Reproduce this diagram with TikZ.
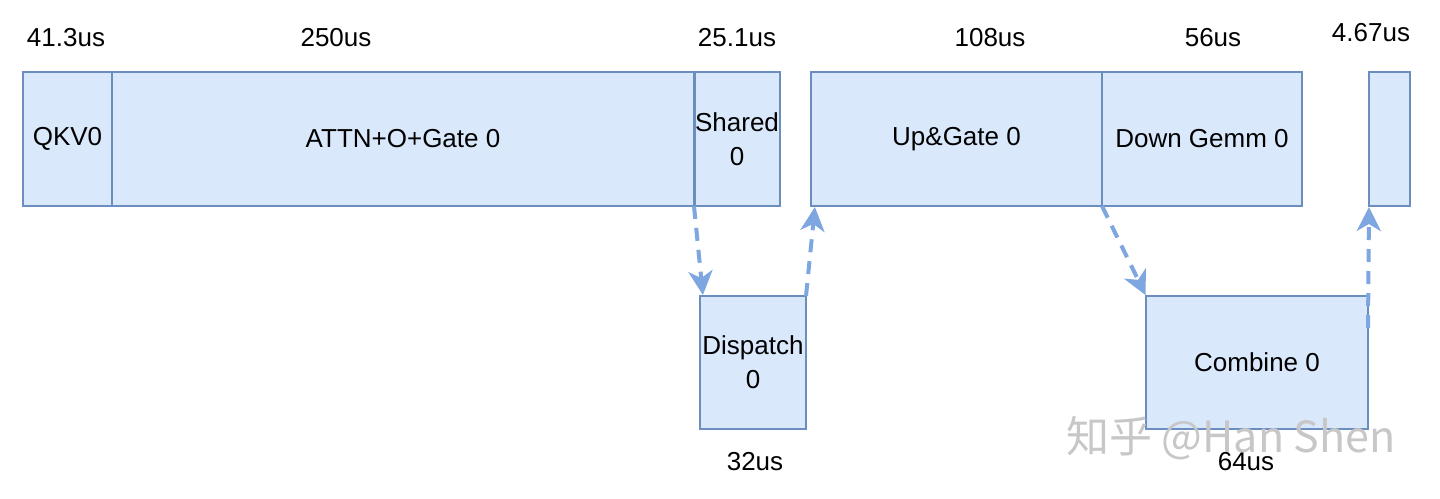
\documentclass[tikz,border=0pt]{standalone}
\usepackage{fontspec}
\setmainfont{Liberation Sans}
\newfontfamily\cjkwm{Noto Sans CJK SC}
\usetikzlibrary{arrows.meta}
\definecolor{boxfill}{HTML}{DAE8FC}
\definecolor{boxline}{HTML}{6C8EBF}
\definecolor{arrowc}{HTML}{7EA6E0}
\tikzset{
  box/.style={draw=boxline, fill=boxfill, line width=1.8pt, inner sep=0pt, outer sep=0pt, anchor=north west, align=center, font=\fontsize{26}{34}\selectfont},
  lbl/.style={font=\fontsize{26}{30}\selectfont, inner sep=0pt},
  flow/.style={draw=arrowc, line width=4pt, dash pattern=on 13pt off 9pt, -{Stealth[length=24pt,width=24pt,inset=7pt]}, shorten >=1pt},
}
\begin{document}
\begin{tikzpicture}[x=1pt,y=-1pt]
\useasboundingbox[fill=white] (0,0) rectangle (1440,498);
% top row
\node[box, minimum width=89pt, minimum height=134pt] (qkv) at (23,72) {QKV0};
\node[box, minimum width=582pt, minimum height=134pt] (attn) at (112,72) {ATTN+O+Gate 0};
\node[box, minimum width=86pt, minimum height=134pt] (shared) at (694,72) {Shared\\0};
\draw[boxline, line width=3pt] (attn.north east) -- (attn.south east);
\node[box, minimum width=291pt, minimum height=134pt] (up) at (811,72) {Up\&Gate 0};
\node[box, minimum width=200pt, minimum height=134pt] (down) at (1102,72) {Down Gemm 0};
\node[box, minimum width=41pt, minimum height=134pt] (last) at (1369,72) {};
% bottom row
\node[box, minimum width=106pt, minimum height=133pt] (disp) at (700,296) {Dispatch\\0};
\node[box, minimum width=222pt, minimum height=133pt] (comb) at (1146,296) {Combine 0};
% time labels
\node[lbl] (t1) at (66,38) {41.3us};
\node[lbl] (t2) at (336,38) {250us};
\node[lbl] (t3) at (737,38) {25.1us};
\node[lbl] (t4) at (990,38) {108us};
\node[lbl] (t5) at (1213,38) {56us};
\node[lbl] (t6) at (1371,33) {4.67us};
\node[lbl] (t7) at (755,462) {32us};
\node[lbl] (t8) at (1246,462) {64us};
% connectors
\coordinate (cstart) at ([yshift=-32pt]comb.north east);
\draw[flow] (attn.south east) -- ([xshift=3pt]disp.north west);
\draw[flow] (disp.north east) -- ([xshift=4pt]up.south west);
\draw[flow] (down.south west) -- (comb.north west);
\draw[flow] (cstart) -- (last.south west);
% watermark
\node[font=\cjkwm\fontsize{43}{46}\selectfont, text=black!22, inner sep=0pt, anchor=west] (wm) at (1066,438) {知乎 @Han Shen};
\end{tikzpicture}
\end{document}
